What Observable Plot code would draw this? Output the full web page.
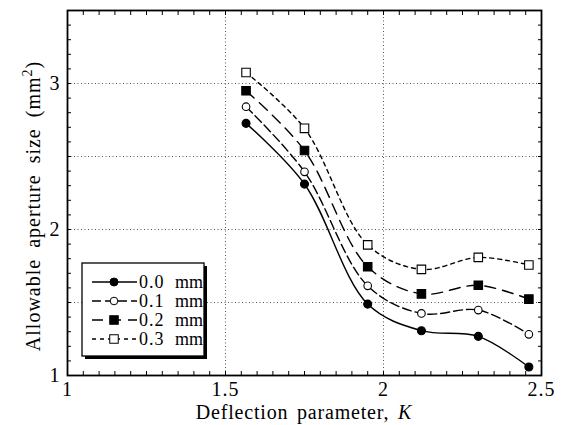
<!DOCTYPE html>
<html><head><meta charset="utf-8">
<script src="https://cdn.jsdelivr.net/npm/d3@7"></script>
<script src="https://cdn.jsdelivr.net/npm/@observablehq/plot@0.6"></script>
<style>body{margin:0;background:#fff}#chart svg{display:block}</style>
</head><body><div id="chart"></div>
<script>
// Data
const K = [1.565, 1.75, 1.95, 2.12, 2.3, 2.46];
const s00 = [2.727, 2.311, 1.489, 1.307, 1.268, 1.058];
const s01 = [2.841, 2.395, 1.614, 1.425, 1.448, 1.282];
const s02 = [2.950, 2.541, 1.745, 1.559, 1.618, 1.523];
const s03 = [3.075, 2.693, 1.895, 1.727, 1.809, 1.757];
const seriesNames = ["0.0", "0.1", "0.2", "0.3"];
const seriesValues = [s00, s01, s02, s03];
const xTicks = [1, 1.5, 2, 2.5];
const yTicks = [1, 2, 3];
const xGrid = [1.5, 2];
const yGrid = [1.5, 2, 2.5, 3];
const xMinor = d3.range(0, 31).map(i => 1 + i * 0.05);
const yMinor = d3.range(0, 26).map(i => 1 + i * 0.1);

const styles = [
  {dash: null, symbol: "circle", r: 4, fill: "black"},
  {dash: "9,4", symbol: "circle", r: 3.8, fill: "white"},
  {dash: "11,7", symbol: "square", r: 4.8, fill: "black"},
  {dash: "4,4", symbol: "square", r: 4.8, fill: "white"}
];

const rows = [];
seriesNames.forEach((s, si) => K.forEach((k, i) => rows.push({series: s, si, K: k, v: seriesValues[si][i]})));

const font = "'Liberation Serif', 'Times New Roman', serif";
const marks = [
  Plot.gridX(xGrid, {stroke: "#555", strokeOpacity: 1, strokeDasharray: "1,2.5"}),
  Plot.gridY(yGrid, {stroke: "#555", strokeOpacity: 1, strokeDasharray: "1,2.5"}),
  Plot.axisX({ticks: xMinor, tickSize: -4, tickFormat: () => "", anchor: "bottom", label: null}),
  Plot.axisX({ticks: xMinor, tickSize: -4, tickFormat: () => "", anchor: "top", label: null}),
  Plot.axisY({ticks: yMinor, tickSize: -4, tickFormat: () => "", anchor: "left", label: null}),
  Plot.axisY({ticks: yMinor, tickSize: -4, tickFormat: () => "", anchor: "right", label: null}),
  Plot.axisX({ticks: xTicks, tickSize: 0, tickPadding: 6, tickFormat: d => String(d), anchor: "bottom", label: null, fontSize: 20, fill: "black"}),
  Plot.axisY({ticks: yTicks, tickSize: 0, tickPadding: 7, tickFormat: d => String(d), anchor: "left", label: null, fontSize: 20, fill: "black"}),
];
styles.forEach((st, si) => {
  const d = rows.filter(r => r.si === si);
  marks.push(Plot.line(d, {x: "K", y: "v", curve: "catmull-rom", stroke: "black", strokeWidth: 1.4, strokeDasharray: st.dash}));
});
styles.forEach((st, si) => {
  const d = rows.filter(r => r.si === si);
  marks.push(Plot.dot(d, {x: "K", y: "v", symbol: st.symbol, r: st.r, fill: st.fill, stroke: "black", strokeWidth: 1.1}));
});
marks.push(Plot.frame({stroke: "black", strokeWidth: 1.8}));

const plot = Plot.plot({
  width: 562, height: 425,
  marginLeft: 67, marginRight: 21, marginTop: 10, marginBottom: 50,
  style: {fontFamily: font, background: "white", color: "black"},
  x: {domain: [1, 2.5]},
  y: {domain: [1, 3.5]},
  marks
});
document.getElementById("chart").appendChild(plot);

const svg = d3.select(plot);
svg.attr("font-family", font);
svg.selectAll("text").style("letter-spacing", "1px").style("font-family", font);

// Axis titles
const xt = svg.append("text").attr("x", 304).attr("y", 419).attr("text-anchor", "middle")
  .style("font-family", font).style("font-size", "20px").style("letter-spacing", "0.8px").style("word-spacing", "3px").attr("fill", "black");
xt.append("tspan").text("Deflection parameter, ");
xt.append("tspan").style("font-style", "italic").text("K");

const yt = svg.append("text").attr("transform", "translate(40,206) rotate(-90)").attr("text-anchor", "middle")
  .style("font-family", font).style("font-size", "20px").style("letter-spacing", "1px").style("word-spacing", "5px").attr("fill", "black");
yt.append("tspan").text("Allowable aperture size (mm");
yt.append("tspan").attr("dy", "-8").style("font-size", "14px").text("2");
yt.append("tspan").attr("dy", "8").text(")");

// Legend
const lg = svg.append("g").attr("text-anchor", "start");
lg.append("rect").attr("x", 85).attr("y", 266).attr("width", 122).attr("height", 93).attr("fill", "black");
lg.append("rect").attr("x", 82).attr("y", 263).attr("width", 122).attr("height", 93).attr("fill", "white").attr("stroke", "black").attr("stroke-width", 1.3);
styles.forEach((st, i) => {
  const y = 282 + i * 19;
  lg.append("line").attr("x1", 92).attr("x2", 137).attr("y1", y).attr("y2", y)
    .attr("stroke", "black").attr("stroke-width", 1.4).attr("stroke-dasharray", st.dash);
  if (st.symbol === "circle") {
    lg.append("circle").attr("cx", 114).attr("cy", y).attr("r", st.r).attr("fill", st.fill).attr("stroke", "black");
  } else {
    const s = st.r * Math.sqrt(Math.PI);
    lg.append("rect").attr("x", 114 - s / 2).attr("y", y - s / 2).attr("width", s).attr("height", s).attr("fill", st.fill).attr("stroke", "black");
  }
  lg.append("text").attr("x", 139).attr("y", y + 6).attr("text-anchor", "start").text(seriesNames[i])
    .style("font-family", font).style("font-size", "18px").style("letter-spacing", "1px").attr("fill", "black");
  lg.append("text").attr("x", 175).attr("y", y + 6).attr("text-anchor", "start").text("mm")
    .style("font-family", font).style("font-size", "18px").attr("fill", "black");
});
</script></body></html>
